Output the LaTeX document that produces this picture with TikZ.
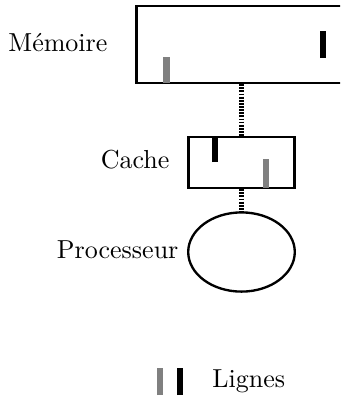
\documentclass[tikz,border=0pt]{standalone}
\usetikzlibrary{shapes.geometric}
\begin{document}
\begin{tikzpicture}[
    bloc/.style={draw, line width=0.9pt, inner sep=0pt},
    ligne/.style={line width=2.5pt},
    lien/.style={line width=1.6pt, dash pattern=on 0.7pt off 0.5pt},
    etiq/.style={inner sep=0pt, anchor=base east}]
    %cadre
        \clip (0,0) rectangle (4.594,5.364);
        %blocs
        \node[bloc, minimum width=2.84cm, minimum height=1.04cm] (mem) at (3.263,4.762) {};
        \node[bloc, minimum width=1.43cm, minimum height=0.69cm] (cache) at (3.263,3.168) {};
        \node[bloc, ellipse, minimum width=1.44cm, minimum height=1.07cm] (proc) at (3.263,1.959) {};
        %liens
        \draw[lien] (mem) -- (cache);
        \draw[lien] (cache) -- (proc);
        %lignes
        \draw[ligne, gray] (2.249,4.242)--++ (0,0.351);
        \draw[ligne, black] (4.364,4.580)--++ (0,0.365);
        \draw[ligne, black] (2.905,3.175)--++ (0,0.338);
        \draw[ligne, gray] (3.594,2.824)--++ (0,0.391);
        %label
        \node[etiq] (lmem) at (1.459,4.665) {Mémoire};
        \node[etiq] (lcache) at (2.297,3.094) {Cache};
        \node[etiq] (lproc) at (2.418,1.878) {Processeur};
        %legende
        \draw[ligne, gray] (2.162,0.027)--++ (0,0.365);
        \draw[ligne, black] (2.432,0.027)--++ (0,0.365);
        \node[inner sep=0pt, anchor=base west] (lleg) at (2.864,0.135) {Lignes};
\end{tikzpicture}
\end{document}
